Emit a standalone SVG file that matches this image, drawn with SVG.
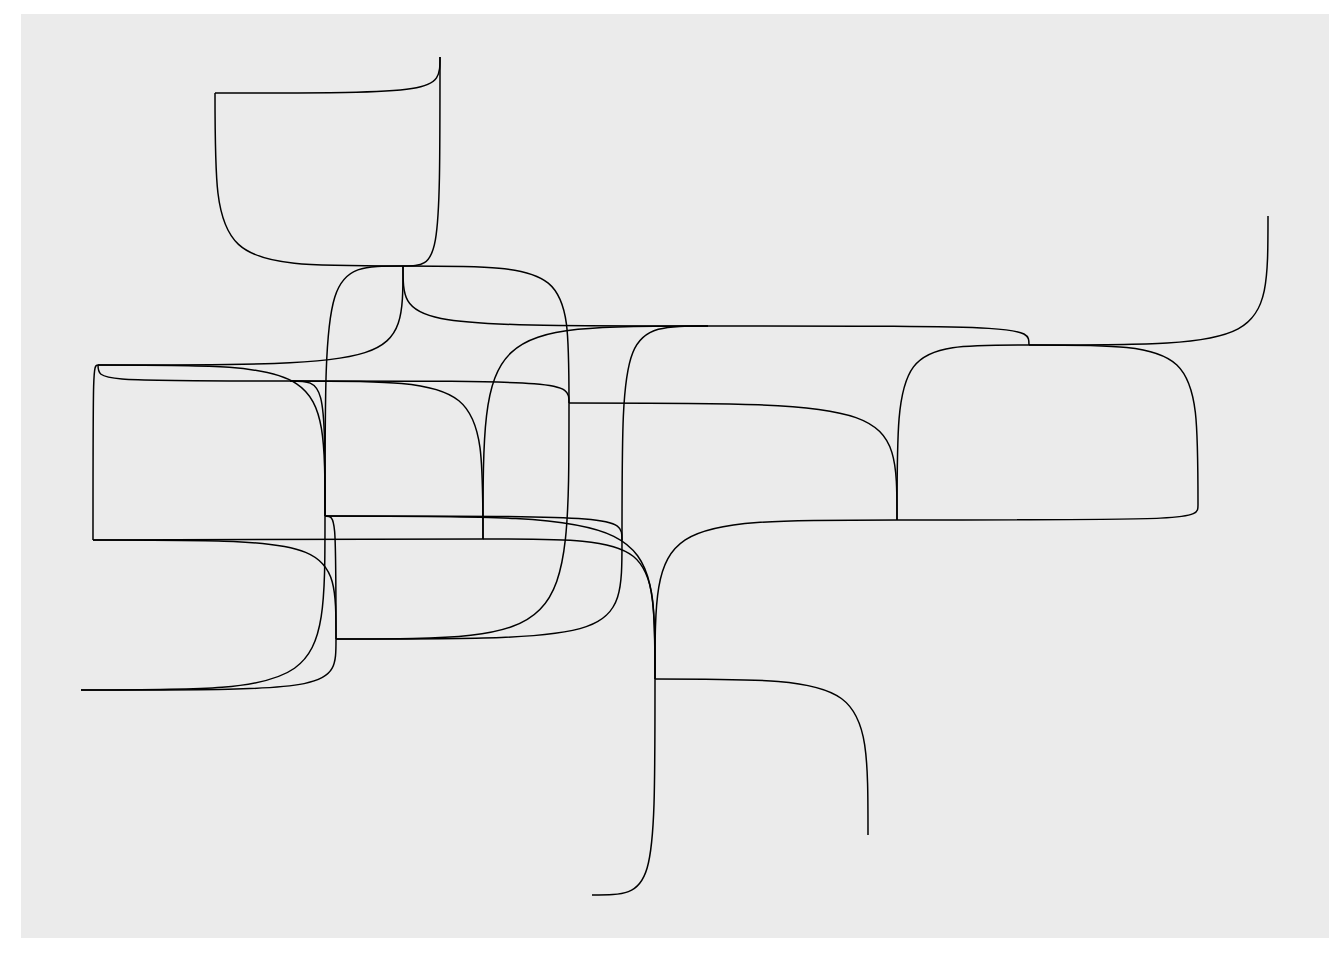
<svg xmlns="http://www.w3.org/2000/svg" width="1344" height="960" viewBox="0 0 1344 960">
<style>
.bg{fill:#FFFFFF}
.panel{fill:#EBEBEB}
.edge{fill:none;stroke:#000000;stroke-width:1.5;stroke-linecap:butt}
</style>
<rect class="bg" x="0" y="0" width="1344" height="960"/>
<rect class="panel" x="21" y="14" width="1308" height="924"/>
<g id="connectors">
<path class="edge" d="M440,57 C440,93 440,93 215,93"/>
<path class="edge" d="M215,93 C215,266 215,266 403,266"/>
<path class="edge" d="M440,57 C440,266 440,266 403,266"/>
<path class="edge" d="M325,516 C325,266 325,266 403,266"/>
<path class="edge" d="M569,403 C569,266 569,266 403,266"/>
<path class="edge" d="M403,266 C403,326 403,326 708,326"/>
<path class="edge" d="M403,266 C403,365 403,365 98,365"/>
<path class="edge" d="M1029,345 C1029,326 1029,326 708,326"/>
<path class="edge" d="M1268,216 C1268,345 1268,345 1029,345"/>
<path class="edge" d="M897,520 C897,345 897,345 1029,345"/>
<path class="edge" d="M1198,505 C1198,345 1198,345 1029,345"/>
<path class="edge" d="M1198,505 C1198,520 1198,520 897,520"/>
<path class="edge" d="M897,520 C897,403 897,403 569,403"/>
<path class="edge" d="M655,679 C655,520 655,520 897,520"/>
<path class="edge" d="M868,835 C868,679 868,679 655,679"/>
<path class="edge" d="M655,679 C655,895 655,895 592,895"/>
<path class="edge" d="M325,516 C325,690 325,690 81,690"/>
<path class="edge" d="M336,639 C336,690 336,690 81,690"/>
<path class="edge" d="M336,639 C336,540 336,540 93,540"/>
<path class="edge" d="M336,639 C336,516 336,516 325,516"/>
<path class="edge" d="M622,540 C622,516 622,516 325,516"/>
<path class="edge" d="M622,540 C622,639 622,639 336,639"/>
<path class="edge" d="M622,540 C622,326 622,326 708,326"/>
<path class="edge" d="M569,403 C569,639 569,639 336,639"/>
<path class="edge" d="M569,403 C569,381 569,381 290,381"/>
<path class="edge" d="M483,539 C483,381 483,381 290,381"/>
<path class="edge" d="M483,539 C483,326 483,326 708,326"/>
<path class="edge" d="M325,516 C325,381 325,381 290,381"/>
<path class="edge" d="M98,365 C98,381 98,381 290,381"/>
<path class="edge" d="M93,540 C93,365 93,365 98,365"/>
<path class="edge" d="M325,516 C325,365 325,365 98,365"/>
<path class="edge" d="M483,539 C483,540 483,540 93,540"/>
<path class="edge" d="M655,679 C655,539 655,539 483,539"/>
<path class="edge" d="M655,679 C655,516 655,516 325,516"/>
</g>
</svg>
